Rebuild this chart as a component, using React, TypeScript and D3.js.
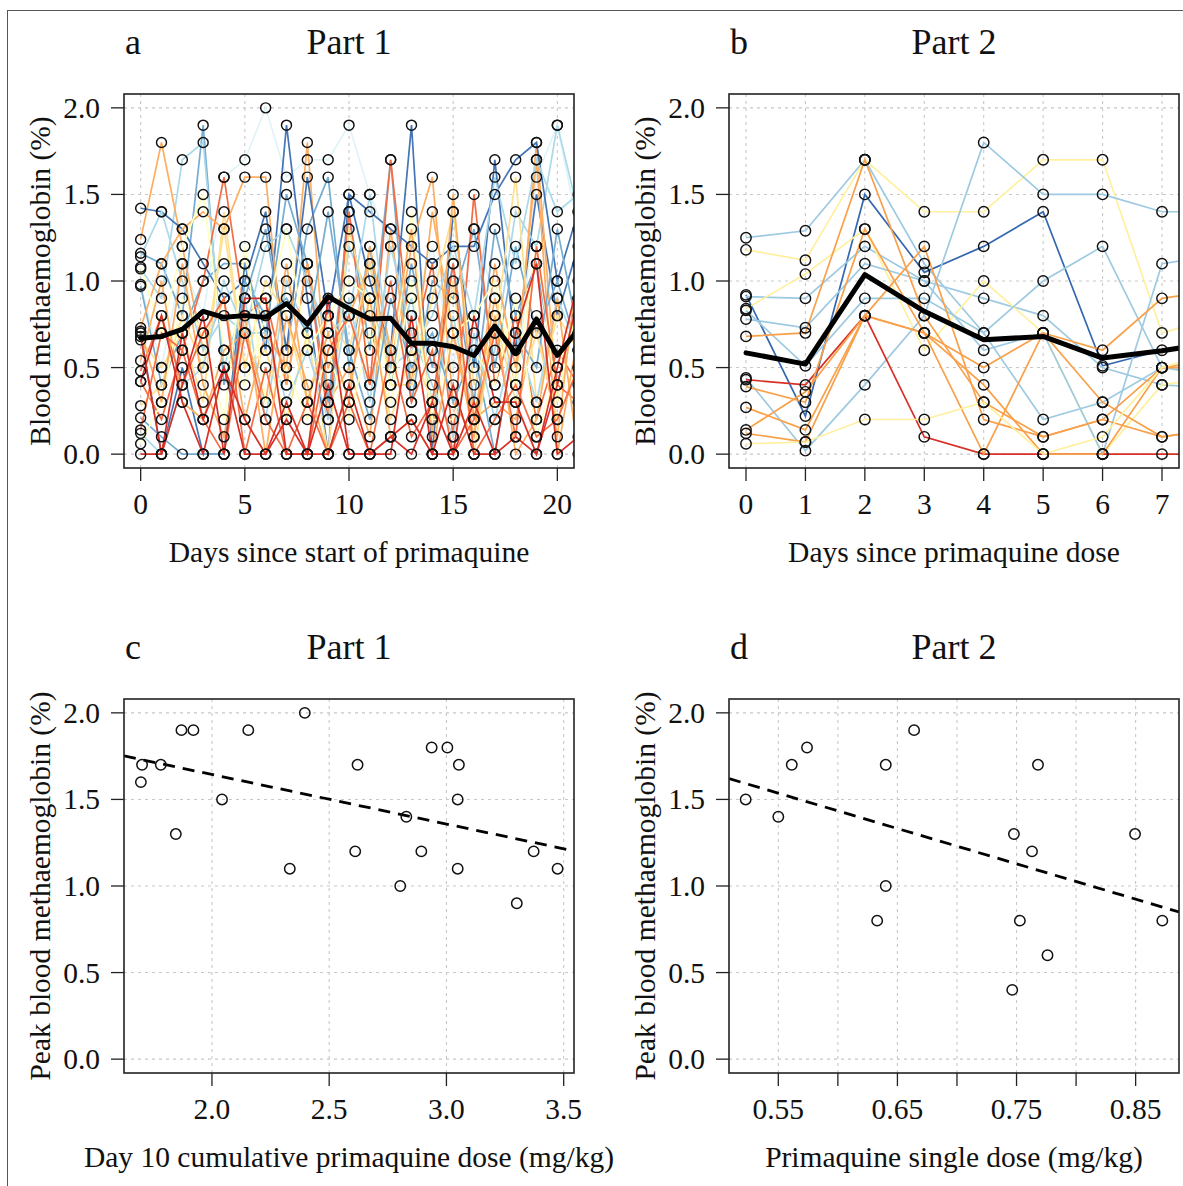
import React from "react";
import * as d3 from "d3";

const FONT = "'Liberation Serif', 'Times New Roman', Times, serif";

// ---------- Panel a: Part 1 daily methaemoglobin ----------
const DAYS_A = [0, 1, 2, 3, 4, 5, 6, 7, 8, 9, 10, 11, 12, 13, 14, 15, 16, 17, 18, 19, 20, 21];
const COLORS_A = [
  "#e0f3f8", "#4575b4", "#74add1", "#abd9e9", "#fdae61", "#4575b4", "#74add1", "#f46d43",
  "#fdae61", "#abd9e9", "#fee090", "#ffffbf", "#fdae61", "#74add1", "#fee090", "#abd9e9",
  "#ffffbf", "#f46d43", "#fdae61", "#f46d43", "#d73027", "#d73027", "#d73027",
];
const VALUES_A = [
  [0.98, 0.5, 1.1, 0.8, 1.6, 1.7, 2.0, 1.6, 1.7, 1.7, 1.9, 1.5, 1.2, 0.8, 1.2, 0.5, 1.3, 0.9, 0.3, 1.6, 1.9, 1.3],
  [0.7, 0.0, 0.5, 0.0, 0.0, 1.1, 0.6, 1.9, 0.9, 0.0, 1.5, 1.0, 0.6, 1.9, 0.0, 1.4, 0.5, 1.7, 0.6, 1.5, 0.8, 1.2],
  [1.16, 1.1, 0.8, 1.9, 0.4, 0.9, 1.3, 0.6, 1.3, 1.6, 0.5, 1.2, 0.4, 1.1, 0.5, 1.1, 0.3, 1.3, 0.8, 1.1, 0.4, 0.9],
  [1.07, 0.9, 1.7, 1.8, 0.5, 0.9, 0.2, 1.0, 0.7, 0.3, 1.2, 0.9, 0.5, 0.9, 0.3, 0.8, 0.2, 0.6, 1.4, 1.2, 1.9, 1.4],
  [1.24, 1.8, 1.2, 0.6, 0.9, 0.2, 0.7, 0.5, 1.8, 0.3, 0.5, 0.1, 1.3, 0.4, 1.4, 0.7, 0.2, 0.9, 0.4, 1.8, 0.3, 0.9],
  [1.42, 1.4, 1.3, 1.1, 0.9, 1.0, 1.4, 0.6, 1.6, 0.8, 1.5, 1.4, 1.3, 1.2, 1.1, 1.2, 1.2, 1.5, 1.7, 1.8, 1.0, 1.4],
  [0.97, 0.4, 0.7, 1.0, 1.1, 1.1, 0.7, 1.5, 1.1, 0.3, 1.4, 0.6, 1.7, 0.3, 1.0, 0.9, 1.3, 0.5, 1.2, 0.7, 1.0, 0.6],
  [0.42, 0.2, 0.6, 1.0, 1.6, 0.8, 0.9, 0.4, 1.1, 0.2, 1.4, 0.4, 1.7, 0.6, 1.1, 0.1, 1.5, 0.4, 0.8, 0.2, 0.6, 0.4],
  [0.73, 1.1, 1.3, 1.4, 1.3, 1.6, 1.6, 0.4, 1.1, 0.5, 0.8, 1.1, 0.5, 1.2, 1.6, 0.3, 0.1, 1.1, 0.5, 1.7, 0.0, 0.7],
  [1.14, 1.4, 1.0, 0.6, 0.8, 0.7, 1.2, 1.3, 1.0, 0.7, 0.8, 1.5, 0.5, 0.6, 0.8, 1.2, 0.8, 1.6, 1.1, 1.7, 1.4, 1.5],
  [0.66, 0.5, 0.7, 0.3, 1.4, 0.5, 1.0, 0.8, 0.3, 0.8, 0.6, 1.1, 0.4, 0.4, 0.9, 1.4, 0.4, 0.7, 1.6, 0.3, 0.8, 0.6],
  [1.08, 0.7, 1.2, 1.5, 0.6, 0.4, 0.8, 1.3, 0.6, 0.8, 1.0, 0.9, 0.4, 1.4, 0.2, 0.7, 0.8, 1.0, 0.4, 1.2, 0.3, 0.9],
  [0.54, 1.0, 0.3, 0.2, 0.6, 0.7, 0.3, 1.1, 0.3, 0.7, 0.3, 1.2, 0.6, 1.3, 0.1, 1.5, 0.2, 0.3, 0.2, 0.8, 0.1, 1.1],
  [0.21, 0.1, 0.0, 0.0, 0.0, 1.0, 0.8, 0.9, 0.7, 1.4, 0.6, 0.2, 0.9, 0.5, 0.7, 0.3, 0.6, 0.0, 0.7, 0.5, 1.3, 0.7],
  [0.28, 0.4, 0.8, 0.5, 1.3, 0.5, 0.6, 0.2, 0.7, 0.0, 1.3, 0.8, 0.2, 0.6, 0.3, 1.0, 0.0, 0.8, 0.3, 0.7, 0.2, 0.5],
  [0.12, 0.0, 0.4, 0.5, 1.0, 0.7, 0.7, 0.3, 0.6, 0.2, 0.9, 0.3, 1.2, 0.7, 0.4, 0.1, 0.7, 0.2, 0.7, 0.3, 0.9, 0.6],
  [0.06, 0.3, 0.9, 0.7, 0.2, 1.2, 0.3, 0.5, 0.2, 0.6, 0.2, 0.7, 0.3, 1.0, 0.2, 0.2, 0.6, 0.4, 0.9, 0.1, 0.5, 0.8],
  [0.48, 0.8, 0.4, 0.7, 0.9, 0.0, 0.5, 0.0, 0.0, 0.6, 0.8, 0.4, 1.0, 0.3, 0.6, 0.0, 0.2, 0.7, 0.1, 1.2, 0.4, 0.3],
  [0.71, 0.3, 1.1, 0.4, 0.1, 0.8, 0.0, 0.8, 0.4, 0.0, 0.4, 0.9, 0.1, 0.2, 0.0, 0.7, 0.1, 0.8, 0.0, 0.2, 0.9, 0.0],
  [0.14, 0.7, 0.6, 0.2, 0.0, 0.7, 0.2, 0.0, 0.3, 0.0, 0.3, 0.0, 0.6, 0.1, 0.3, 1.1, 0.0, 0.2, 0.4, 0.1, 0.2, 0.5],
  [0.68, 0.0, 0.4, 0.8, 0.0, 0.9, 0.9, 0.0, 0.0, 0.9, 0.0, 0.0, 0.0, 0.8, 0.0, 0.0, 0.3, 0.0, 0.7, 1.1, 0.0, 0.1],
  [0.42, 0.8, 0.3, 0.0, 0.5, 0.2, 0.0, 0.2, 0.0, 0.0, 0.4, 0.0, 0.1, 0.0, 0.3, 0.0, 0.8, 0.3, 0.3, 0.0, 0.5, 1.0],
  [0.0, 0.0, 0.7, 0.2, 0.5, 0.0, 0.0, 0.3, 0.0, 0.4, 0.0, 0.0, 0.1, 0.2, 0.0, 0.4, 0.0, 0.0, 0.1, 0.0, 0.4, 0.9],
];
const MEAN_A = [0.67, 0.68, 0.72, 0.825, 0.79, 0.8, 0.79, 0.87, 0.75, 0.91, 0.84, 0.78, 0.785, 0.64, 0.64, 0.62, 0.57, 0.74, 0.58, 0.78, 0.57, 0.72];

// ---------- Panel b: Part 2 daily methaemoglobin ----------
const DAYS_B = [0, 1, 2, 3, 4, 5, 6, 7, 8];
const COLORS_B = [
  "#9ecae1", "#fff0a0", "#3568b0", "#9ecae1", "#fff0a0", "#9ecae1", "#9ecae1", "#f9a04a",
  "#9ecae1", "#d73027", "#f9a04a", "#f9a04a", "#f9a04a", "#f9a04a", "#fff0a0",
];
const VALUES_B = [
  [1.25, 1.29, 1.7, 1.1, 0.7, 0.2, 0.3, 0.5, 0.5],
  [1.18, 1.12, 1.7, 1.4, 1.4, 1.7, 1.7, 0.7, 0.8],
  [0.92, 0.22, 1.5, 1.05, 1.2, 1.4, 0.51, 0.6, 0.6],
  [0.91, 0.9, 1.2, 1.0, 0.9, 0.8, 0.5, 0.4, 0.38],
  [0.84, 1.04, 1.3, 0.6, 1.0, 0.7, 0.0, 0.4, 0.45],
  [0.83, 0.51, 0.9, 0.9, 0.7, 1.0, 1.2, 0.5, 0.45],
  [0.78, 0.73, 1.1, 1.0, 0.6, 0.7, 0.0, 1.1, 1.15],
  [0.68, 0.7, 1.7, 0.8, 0.3, 0.1, 0.2, 0.5, 0.5],
  [0.44, 0.02, 0.4, 0.8, 1.8, 1.5, 1.5, 1.4, 1.4],
  [0.43, 0.4, 0.8, 0.1, 0.0, 0.0, 0.0, 0.0, 0.0],
  [0.39, 0.3, 1.3, 0.7, 0.4, 0.0, 0.0, 0.5, 0.55],
  [0.27, 0.14, 0.8, 0.7, 0.5, 0.7, 0.3, 0.1, 0.15],
  [0.14, 0.36, 0.8, 1.2, 0.2, 0.1, 0.2, 0.1, 0.15],
  [0.12, 0.07, 0.8, 0.7, 0.0, 0.7, 0.6, 0.9, 0.95],
  [0.06, 0.07, 0.2, 0.2, 0.3, 0.0, 0.1, 0.5, 0.6],
];
const MEAN_B = [0.585, 0.52, 1.037, 0.825, 0.66, 0.68, 0.555, 0.597, 0.65];

// ---------- Panel c: peak vs day 10 cumulative dose ----------
const DOSE_C = [1.702, 1.782, 1.697, 1.87, 1.921, 1.846, 2.043, 2.155, 2.396, 2.332, 2.621, 2.611, 2.803, 2.829, 2.893, 2.937, 3.004, 3.053, 3.048, 3.048, 3.3, 3.372, 3.474];
const PEAK_C = [1.7, 1.7, 1.6, 1.9, 1.9, 1.3, 1.5, 1.9, 2.0, 1.1, 1.7, 1.2, 1.0, 1.4, 1.2, 1.8, 1.8, 1.7, 1.5, 1.1, 0.9, 1.2, 1.1];
const FIT_C = [2.216, -0.286]; // intercept, slope

// ---------- Panel d: peak vs single dose ----------
const DOSE_D = [0.5226, 0.55, 0.5613, 0.5741, 0.633, 0.6402, 0.6402, 0.664, 0.7464, 0.7478, 0.7528, 0.763, 0.768, 0.776, 0.8495, 0.8724];
const PEAK_D = [1.5, 1.4, 1.7, 1.8, 0.8, 1.7, 1.0, 1.9, 0.4, 1.3, 0.8, 1.2, 1.7, 0.6, 1.3, 0.8];
const FIT_D = [2.658, -2.04];

// ---------- axes ----------
const Y_TICKS = [0, 0.5, 1, 1.5, 2];
const Y_TICK_LABELS = ["0.0", "0.5", "1.0", "1.5", "2.0"];
const X_TICKS_A = [0, 5, 10, 15, 20];
const X_TICKS_B = [0, 1, 2, 3, 4, 5, 6, 7];
const X_TICKS_C = [2.0, 2.5, 3.0, 3.5];
const X_LABELS_C = ["2.0", "2.5", "3.0", "3.5"];
const X_TICKS_D = [0.55, 0.6, 0.65, 0.7, 0.75, 0.8, 0.85];
const X_LABELS_D = ["0.55", "", "0.65", "", "0.75", "", "0.85"];

const PW = 450;
const PH = 374;
const Y_DOMAIN = [-0.08, 2.08];
const FS = 29.5;

type Sc = d3.ScaleLinear<number, number>;

function Panel(props: {
  id: string; left: number; top: number; xDomain: number[]; xTicks: number[]; xLabels: string[];
  letter: string; title: string; xTitle: string; yTitle: string;
  children: (x: Sc, y: Sc) => React.ReactNode;
}) {
  const { id, left, top, xDomain, xTicks, xLabels, letter, title, xTitle, yTitle } = props;
  const x = d3.scaleLinear().domain(xDomain).range([left, left + PW]);
  const y = d3.scaleLinear().domain(Y_DOMAIN).range([top + PH, top]);
  const bottom = top + PH;
  return (
    <g>
      <defs>
        <clipPath id={id}>
          <rect x={left} y={top} width={PW} height={PH} />
        </clipPath>
      </defs>
      <g stroke="#c8c8c8" strokeWidth={1.1} strokeDasharray="3,4">
        {xTicks.map((t, i) => (
          <line key={"gx" + i} x1={x(t)} x2={x(t)} y1={top} y2={bottom} />
        ))}
        {Y_TICKS.map((t, i) => (
          <line key={"gy" + i} x1={left} x2={left + PW} y1={y(t)} y2={y(t)} />
        ))}
      </g>
      <g clipPath={`url(#${id})`}>{props.children(x, y)}</g>
      <rect x={left} y={top} width={PW} height={PH} fill="none" stroke="#222" strokeWidth={1.6} />
      <g stroke="#222" strokeWidth={1.3}>
        {xTicks.map((t, i) => (
          <line key={"tx" + i} x1={x(t)} x2={x(t)} y1={bottom} y2={bottom + 13} />
        ))}
        {Y_TICKS.map((t, i) => (
          <line key={"ty" + i} x1={left - 13} x2={left} y1={y(t)} y2={y(t)} />
        ))}
      </g>
      <g fontFamily={FONT} fontSize={FS} fill="#111">
        {xTicks.map((t, i) => (
          <text key={"lx" + i} x={x(t)} y={bottom + 46} textAnchor="middle">{xLabels[i]}</text>
        ))}
        {Y_TICKS.map((t, i) => (
          <text key={"ly" + i} x={left - 24} y={y(t) + 10} textAnchor="end">{Y_TICK_LABELS[i]}</text>
        ))}
        <text x={left + PW / 2} y={bottom + 94} textAnchor="middle">{xTitle}</text>
        <text transform={`translate(${left - 74},${top + PH / 2}) rotate(-90)`} textAnchor="middle">{yTitle}</text>
      </g>
      <g fontFamily={FONT} fontSize={36} fill="#111">
        <text x={left + 1} y={top - 40}>{letter}</text>
        <text x={left + PW / 2} y={top - 40} textAnchor="middle">{title}</text>
      </g>
    </g>
  );
}

function Trajectories(x: Sc, y: Sc, days: number[], values: number[][], colors: string[], mean: number[], r: number) {
  const line = d3.line<number>().x((_, i) => x(days[i])).y((v) => y(v));
  return (
    <g>
      {values.map((row, s) => (
        <path key={"l" + s} d={line(row) || ""} fill="none" stroke={colors[s]} strokeWidth={1.7} />
      ))}
      {values.map((row, s) => (
        <g key={"p" + s}>
          {row.map((v, i) => (
            <circle key={i} cx={x(days[i])} cy={y(v)} r={r} fill="none" stroke="#111" strokeWidth={1.45} />
          ))}
        </g>
      ))}
      <path d={line(mean) || ""} fill="none" stroke="#000" strokeWidth={5} strokeLinejoin="round" strokeLinecap="round" />
    </g>
  );
}

function Scatter(x: Sc, y: Sc, xs: number[], ys: number[], fit: number[]) {
  const [x0, x1] = x.domain();
  return (
    <g>
      <line x1={x(x0)} y1={y(fit[0] + fit[1] * x0)} x2={x(x1)} y2={y(fit[0] + fit[1] * x1)}
        stroke="#000" strokeWidth={2.8} strokeDasharray="12,8" />
      {xs.map((v, i) => (
        <circle key={i} cx={x(v)} cy={y(ys[i])} r={5.2} fill="none" stroke="#111" strokeWidth={1.5} />
      ))}
    </g>
  );
}

export default function App() {
  return (
    <svg width={1183} height={1186} style={{ position: "absolute", left: 0, top: 0, background: "#fff" }}>
      <rect x={0} y={0} width={1183} height={1186} fill="#fff" />
      <rect x={7.5} y={10.5} width={1185} height={1185} fill="none" stroke="#555" strokeWidth={1} />
      <Panel id="clipA" left={124} top={94} xDomain={[-0.8, 20.8]} xTicks={X_TICKS_A} xLabels={X_TICKS_A.map(String)}
        letter="a" title="Part 1" xTitle="Days since start of primaquine" yTitle="Blood methaemoglobin (%)">
        {(x, y) => Trajectories(x, y, DAYS_A, VALUES_A, COLORS_A, MEAN_A, 5)}
      </Panel>
      <Panel id="clipB" left={729} top={94} xDomain={[-0.286, 7.286]} xTicks={X_TICKS_B} xLabels={X_TICKS_B.map(String)}
        letter="b" title="Part 2" xTitle="Days since primaquine dose" yTitle="Blood methaemoglobin (%)">
        {(x, y) => Trajectories(x, y, DAYS_B, VALUES_B, COLORS_B, MEAN_B, 5.2)}
      </Panel>
      <Panel id="clipC" left={124} top={699} xDomain={[1.625, 3.544]} xTicks={X_TICKS_C} xLabels={X_LABELS_C}
        letter="c" title="Part 1" xTitle="Day 10 cumulative primaquine dose (mg/kg)" yTitle="Peak blood methaemoglobin (%)">
        {(x, y) => Scatter(x, y, DOSE_C, PEAK_C, FIT_C)}
      </Panel>
      <Panel id="clipD" left={729} top={699} xDomain={[0.5086, 0.8864]} xTicks={X_TICKS_D} xLabels={X_LABELS_D}
        letter="d" title="Part 2" xTitle="Primaquine single dose (mg/kg)" yTitle="Peak blood methaemoglobin (%)">
        {(x, y) => Scatter(x, y, DOSE_D, PEAK_D, FIT_D)}
      </Panel>
    </svg>
  );
}
